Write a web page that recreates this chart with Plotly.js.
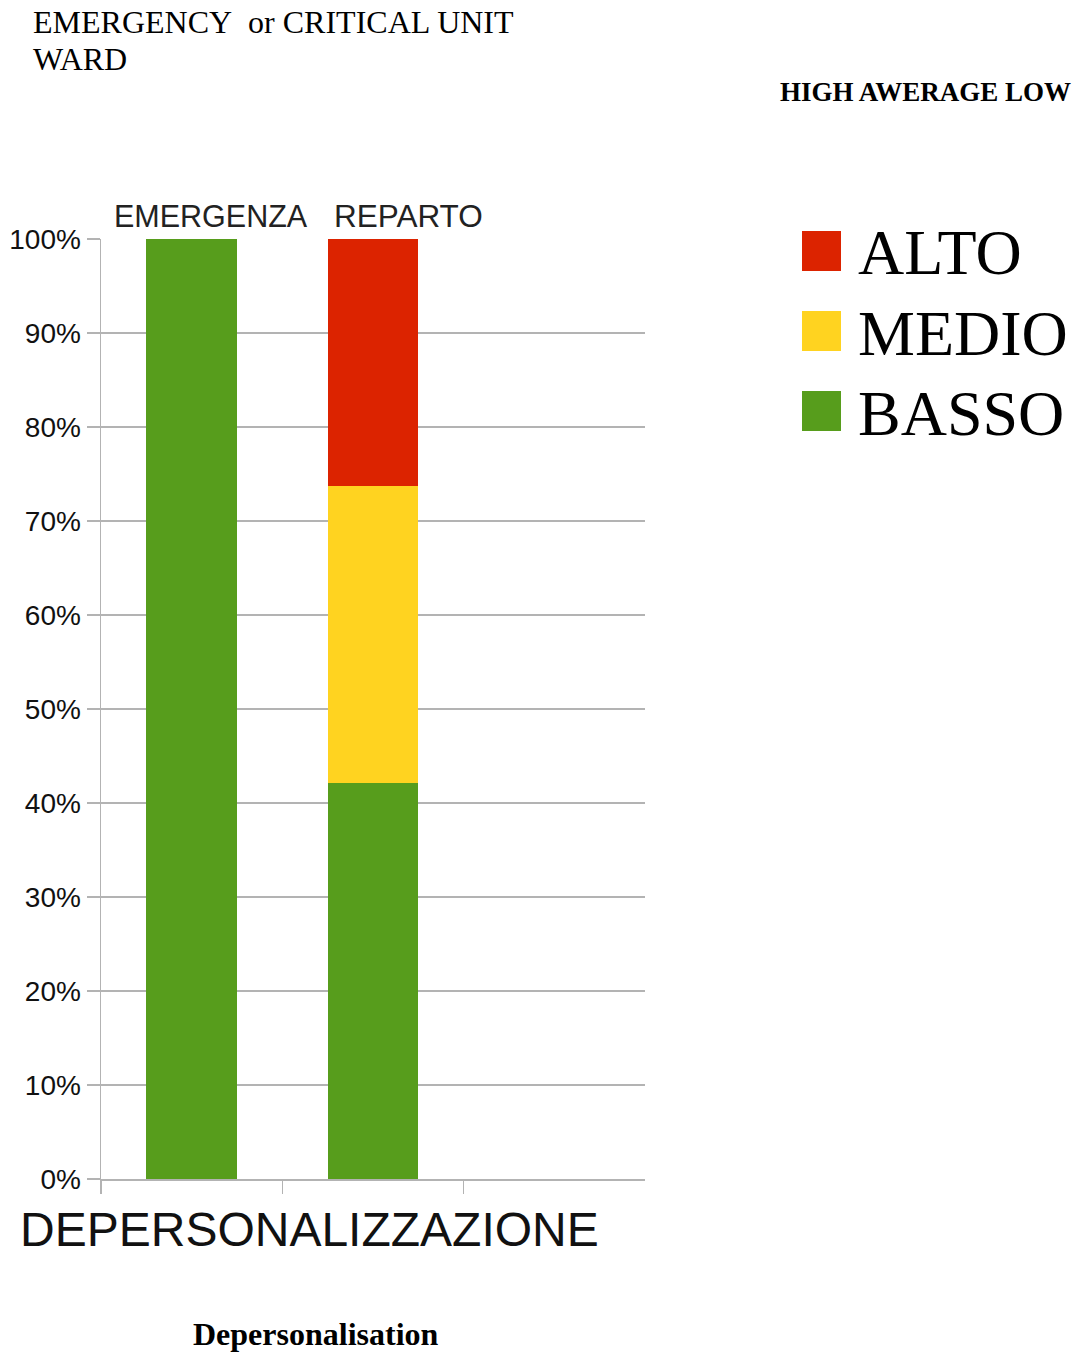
<!DOCTYPE html>
<html>
<head>
<meta charset="utf-8">
<script src="https://cdn.plot.ly/plotly-3.0.1.min.js"></script>
<style>html,body{margin:0;padding:0;background:#fff;}</style>
</head>
<body>
<div id="chart" style="width:1074px;height:1353px;"></div>
<script>
// ---- data ----
var categories = ["EMERGENZA", "REPARTO"];
var seriesNames = ["BASSO", "MEDIO", "ALTO"];
var basso = [100, 42.1];
var medio = [0, 31.6];
var alto = [0, 26.3];
var yTickVals = [0, 10, 20, 30, 40, 50, 60, 70, 80, 90, 100];
var yTickText = ["0%", "10%", "20%", "30%", "40%", "50%", "60%", "70%", "80%", "90%", "100%"];
var legendOrder = ["ALTO", "MEDIO", "BASSO"];
var axisTitle = "DEPERSONALIZZAZIONE";
var englishTitle = "Depersonalisation";
var headerLine1 = "EMERGENCY&nbsp; or CRITICAL UNIT";
var headerLine2 = "WARD";
var legendHeader = "HIGH AWERAGE LOW";

// ---- styling ----
var colors = {BASSO: "#579d1c", MEDIO: "#ffd320", ALTO: "#dc2300"};
var W = 1074, H = 1353;
var L = 101, R = 645, T = 239, B = 1179;
function xp(px){ return (px - L) / (R - L); }
function yp(py){ return (B - py) / (B - T); }

var values = {BASSO: basso, MEDIO: medio, ALTO: alto};
var traces = seriesNames.map(function(n){
  return {
    type: "bar", name: n, x: categories, y: values[n],
    marker: {color: colors[n], line: {width: 0}},
    width: 0.5, showlegend: false, hoverinfo: "name+y"
  };
});

var sans = "Liberation Sans, Arial, sans-serif";
var serif = "Liberation Serif, Times New Roman, serif";

var annotations = [
  {text: headerLine1, xref: "paper", yref: "paper", x: xp(31), y: yp(22), xanchor: "left", yanchor: "middle", showarrow: false, font: {family: serif, size: 32, color: "#000"}},
  {text: headerLine2, xref: "paper", yref: "paper", x: xp(31), y: yp(59), xanchor: "left", yanchor: "middle", showarrow: false, font: {family: serif, size: 32, color: "#000"}},
  {text: "<b>" + legendHeader + "</b>", xref: "paper", yref: "paper", x: xp(925), y: yp(92), xanchor: "center", yanchor: "middle", showarrow: false, font: {family: serif, size: 27, color: "#000"}},
  {text: categories[0], xref: "x", yref: "paper", x: categories[0], xshift: 19, y: yp(216), xanchor: "center", yanchor: "middle", showarrow: false, font: {family: sans, size: 30.5, color: "#222"}},
  {text: categories[1], xref: "x", yref: "paper", x: categories[1], xshift: 35, y: yp(216), xanchor: "center", yanchor: "middle", showarrow: false, font: {family: sans, size: 31.5, color: "#222"}},
  {text: axisTitle, xref: "paper", yref: "paper", x: xp(309), y: yp(1229), xanchor: "center", yanchor: "middle", showarrow: false, font: {family: sans, size: 48, color: "#111"}},
  {text: "<b>" + englishTitle + "</b>", xref: "paper", yref: "paper", x: xp(316), y: yp(1334), xanchor: "center", yanchor: "middle", showarrow: false, font: {family: serif, size: 32, color: "#000"}}
];

var shapes = [];
var rowY = [251, 331, 411];
legendOrder.forEach(function(n, i){
  shapes.push({type: "rect", xref: "paper", yref: "paper", x0: xp(802), x1: xp(841), y0: yp(rowY[i] - 20), y1: yp(rowY[i] + 20), fillcolor: colors[n], line: {width: 0}});
  annotations.push({text: n, xref: "paper", yref: "paper", x: xp(856), y: yp(rowY[i] + 2), xanchor: "left", yanchor: "middle", showarrow: false, font: {family: serif, size: 64, color: "#000"}});
});

var layout = {
  width: W, height: H,
  margin: {l: L, r: W - R, t: T, b: H - B, pad: 0},
  paper_bgcolor: "#fff", plot_bgcolor: "#fff",
  barmode: "stack", bargap: 0.5,
  showlegend: false,
  xaxis: {
    type: "category", range: [-0.5, 2.5], tickson: "boundaries",
    showticklabels: false, ticks: "outside", ticklen: 13, tickcolor: "#b3b3b3", tickwidth: 1.5,
    showgrid: false, showline: true, linecolor: "#b3b3b3", linewidth: 1.5, zeroline: false
  },
  yaxis: {
    range: [0, 100], tickmode: "array", tickvals: yTickVals, ticktext: yTickText,
    ticks: "outside", ticklen: 13, tickcolor: "#b3b3b3", tickwidth: 1.5,
    showgrid: true, gridcolor: "#b3b3b3", gridwidth: 1.5,
    showline: true, linecolor: "#b3b3b3", linewidth: 1.5, zeroline: false,
    tickfont: {family: sans, size: 28, color: "#111"}
  },
  annotations: annotations,
  shapes: shapes
};

Plotly.newPlot("chart", traces, layout, {displayModeBar: false, staticPlot: true});
</script>
</body>
</html>
